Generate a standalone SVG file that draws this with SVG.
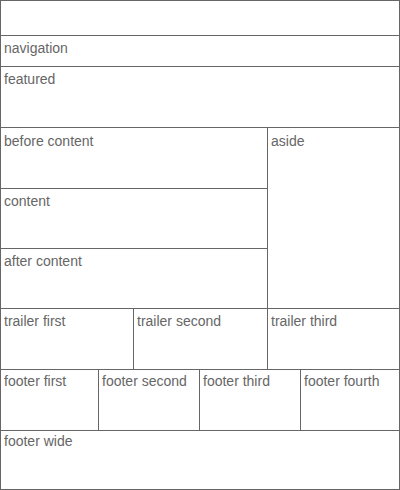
<svg xmlns="http://www.w3.org/2000/svg" width="400" height="490" viewBox="0 0 400 490">
<style>
.b{fill:#fff;stroke:#666;stroke-width:1}
.t{font-family:"Liberation Sans",Arial,sans-serif;font-size:14px;fill:#666}
</style>
<rect width="400" height="490" fill="#fff"/>
<g id="header"><rect class="b" x="0.5" y="0.5" width="399" height="35"/></g>
<g id="navigation"><rect class="b" x="0.5" y="35.5" width="399" height="31"/><text class="t" x="4" y="52.5">navigation</text></g>
<g id="featured"><rect class="b" x="0.5" y="66.5" width="399" height="61"/><text class="t" x="4" y="83.5">featured</text></g>
<g id="before-content"><rect class="b" x="0.5" y="127.5" width="267" height="61"/><text class="t" x="4" y="145.5">before content</text></g>
<g id="content"><rect class="b" x="0.5" y="188.5" width="267" height="60"/><text class="t" x="4" y="205.5">content</text></g>
<g id="after-content"><rect class="b" x="0.5" y="248.5" width="267" height="60"/><text class="t" x="4" y="265.5">after content</text></g>
<g id="aside"><rect class="b" x="267.5" y="127.5" width="132" height="181"/><text class="t" x="271" y="145.5">aside</text></g>
<g id="trailer-first"><rect class="b" x="0.5" y="308.5" width="133" height="61"/><text class="t" x="4" y="325.5">trailer first</text></g>
<g id="trailer-second"><rect class="b" x="133.5" y="308.5" width="134" height="61"/><text class="t" x="137" y="325.5">trailer second</text></g>
<g id="trailer-third"><rect class="b" x="267.5" y="308.5" width="132" height="61"/><text class="t" x="271" y="325.5">trailer third</text></g>
<g id="footer-first"><rect class="b" x="0.5" y="369.5" width="98" height="61"/><text class="t" x="4" y="385.5">footer first</text></g>
<g id="footer-second"><rect class="b" x="98.5" y="369.5" width="101" height="61"/><text class="t" x="102" y="385.5">footer second</text></g>
<g id="footer-third"><rect class="b" x="199.5" y="369.5" width="101" height="61"/><text class="t" x="203" y="385.5">footer third</text></g>
<g id="footer-fourth"><rect class="b" x="300.5" y="369.5" width="99" height="61"/><text class="t" x="304" y="385.5">footer fourth</text></g>
<g id="footer-wide"><rect class="b" x="0.5" y="430.5" width="399" height="59"/><text class="t" x="4" y="445.5">footer wide</text></g>
<g id="connectors"></g>
</svg>
